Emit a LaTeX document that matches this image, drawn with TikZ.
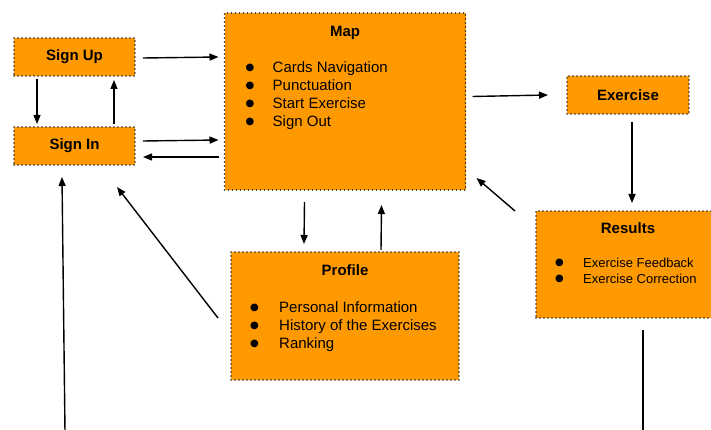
\documentclass[tikz,border=0pt]{standalone}
\usepackage{fontspec}
\setmainfont{Liberation Sans}
\newfontfamily\symfont{DejaVu Sans}
\usepackage{tikz}
\usetikzlibrary{calc,positioning,arrows.meta}
\definecolor{boxorange}{HTML}{FF9900}
\newcommand{\bitem}[2]{\makebox[#1][l]{\raisebox{1.8pt}{\symfont\fontsize{10}{11}\selectfont ●}}#2}

\begin{document}
\begin{tikzpicture}[x=1pt,y=-1pt,
		box/.style={draw=black!85, fill=boxorange, line width=1.6pt, dash pattern=on 0pt off 4pt, line cap=round, inner sep=0pt, outer sep=0pt, font=\fontsize{15}{18}\selectfont\bfseries},
		head/.style={inner sep=0pt, anchor=base, font=\fontsize{15}{18}\selectfont\bfseries},
		item/.style={inner sep=0pt, anchor=base west, font=\fontsize{15}{18}\selectfont},
		smallitem/.style={item, font=\fontsize{13}{16}\selectfont},
		arr/.style={line width=1.4pt, -{Triangle[length=9pt,width=7pt]}},
		link/.style={line width=1.4pt}]
	\useasboundingbox (0,0) rectangle (711,430);
	% boxes
	\node[box, minimum width=121pt, minimum height=38pt] (signup) at (74.5,57) {Sign Up};
	\node[box, minimum width=121pt, minimum height=38pt] (signin) at (74.5,146) {Sign In};
	\node[box, minimum width=241pt, minimum height=177pt] (map) at (345,101.5) {};
	\node[box, minimum width=122pt, minimum height=38pt] (exercise) at (628,95) {Exercise};
	\node[box, minimum width=184pt, minimum height=107pt] (results) at (628,264.5) {};
	\node[box, minimum width=228pt, minimum height=128pt] (profile) at (345,316) {};
	% titles
	\node[head] (maptitle) at ($(map.north)+(0,23.5)$) {Map};
	\node[head] (profiletitle) at ($(profile.north)+(0,23.5)$) {Profile};
	\node[head] (resultstitle) at ($(results.north)+(0,22.5)$) {Results};
	% bullet lists
	\foreach \t [count=\i] in {Cards Navigation, Punctuation, Start Exercise, Sign Out} {
		\node[item] (mapitem\i) at ($(map.north west)+(21,41.5+18*\i)$) {\bitem{27pt}{\t}};
	}
	\foreach \t [count=\i] in {Personal Information, History of the Exercises, Ranking} {
		\node[item] (profileitem\i) at ($(profile.north west)+(19,42+18*\i)$) {\bitem{29pt}{\t}};
	}
	\foreach \t [count=\i] in {Exercise Feedback, Exercise Correction} {
		\node[smallitem] (resultsitem\i) at ($(results.north west)+(19,40.7+16*\i)$) {\bitem{28pt}{\t}};
	}
	% sign up / sign in
	\draw[arr] ($(signup.east)+(8,1)$) -- ($(signup.east -| map.west)+(-6,0)$);
	\draw[arr] ($(signup.south west)+(23,3)$) -- ($(signin.north west)+(23,-3)$);
	\draw[arr] ($(signin.north west)+(100,-3)$) -- ($(signup.south west)+(100,4)$);
	\draw[arr] ($(signin.east)+(8,-5)$) -- ($(signin.east -| map.west)+(-6,-6)$);
	\draw[arr] ($(signin.east -| map.west)+(-6,11)$) -- ($(signin.east)+(8,11)$);
	% map / exercise / results
	\draw[arr] ($(map.east)+(7,-5)$) -- ($(exercise.west)+(-19,0)$);
	\draw[arr] ($(exercise.south)+(4,8)$) -- ($(results.north west)+(96,-8)$);
	\draw[arr] ($(results.north west)+(-21,0)$) -- ($(map.south east)+(11,-12)$);
	% map / profile
	\draw[arr] ($(map.south west)+(80,12)$) -- ($(profile.north west)+(73,-8)$);
	\draw[arr] ($(profile.north west)+(150,-2)$) -- ($(map.south west)+(157,15)$);
	\draw[arr] ($(profile.west)+(-13,2)$) -- ($(signin.south east)+(-18,22)$);
	% links leaving the page
	\coordinate (offleft) at (65,432);
	\coordinate (offright) at (643,432);
	\draw[arr] (offleft) -- ($(signin.south west)+(48,12)$);
	\draw[link] ($(results.south west)+(107,12)$) -- (offright);
\end{tikzpicture}
\end{document}
